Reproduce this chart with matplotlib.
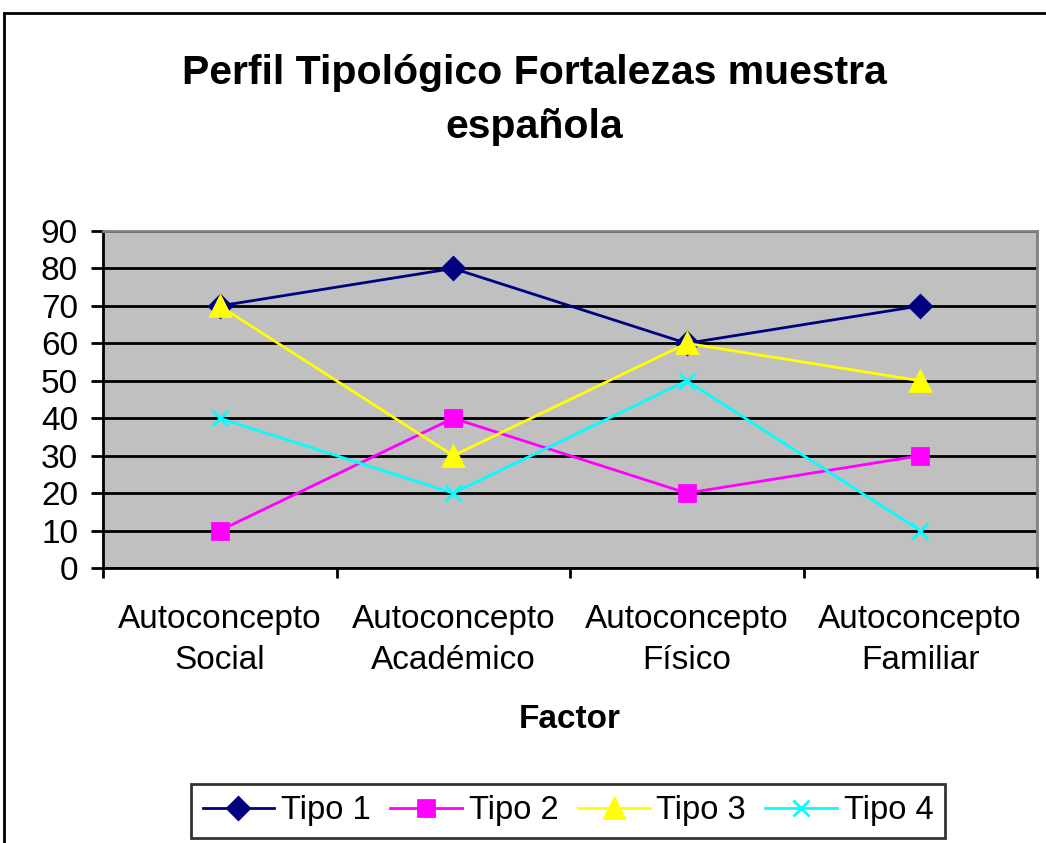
import matplotlib
matplotlib.use("Agg")
import matplotlib.pyplot as plt
from matplotlib.lines import Line2D
import numpy as np

plt.rcParams['font.family'] = ['Liberation Sans', 'DejaVu Sans']

# factores (eje X) y puntuaciones por tipo
factores = ['Autoconcepto\nSocial', 'Autoconcepto\nAcadémico',
            'Autoconcepto\nFísico', 'Autoconcepto\nFamiliar']
tipo1 = [70, 80, 60, 70]
tipo2 = [10, 40, 20, 30]
tipo3 = [70, 30, 60, 50]
tipo4 = [40, 20, 50, 10]
nombres = ['Tipo 1', 'Tipo 2', 'Tipo 3', 'Tipo 4']
yticks = list(range(0, 91, 10))

W, H = 1046, 843
fig = plt.figure(figsize=(W / 100, H / 100), dpi=100)

# marco exterior del grafico (sale por la derecha y por abajo)
fig.add_artist(Line2D([4 / W, 1.0], [1 - 13 / H, 1 - 13 / H], color='black', lw=2,
                      transform=fig.transFigure))
fig.add_artist(Line2D([4 / W, 4 / W], [0.0, 1 - 13 / H], color='black', lw=2,
                      transform=fig.transFigure))

ax = fig.add_axes([103 / W, 1 - 568 / H, (1037 - 103) / W, (568 - 231) / H])
ax.set_facecolor('#C0C0C0')

x = np.arange(len(factores))
estilos = [
    (tipo1, '#000080', 'D', 11),
    (tipo2, '#FF00FF', 's', 11),
    (tipo3, '#FFFF00', '^', 14),
    (tipo4, '#00FFFF', 'x', 11),
]
for (vals, col, mk, ms), nom in zip(estilos, nombres):
    ax.plot(x, vals, color=col, lw=2, marker=mk, markersize=ms,
            markerfacecolor=col, markeredgecolor=col, markeredgewidth=2,
            label=nom, zorder=3)

ax.set_xlim(-0.5, len(factores) - 0.5)
ax.set_ylim(0, 90)
ax.set_yticks(yticks)
ax.yaxis.grid(True, color='black', lw=2)
ax.set_axisbelow(True)
ax.tick_params(axis='y', length=9, width=2, labelsize=24, pad=9)

# etiquetas en el centro de cada categoria, marcas en los limites
ax.set_xticks(x)
ax.set_xticklabels(factores, fontsize=24, linespacing=1.43)
ax.tick_params(axis='x', length=0, pad=26)
ax.set_xticks(np.arange(-0.5, len(factores)), minor=True)
ax.tick_params(axis='x', which='minor', length=7, width=2)

for s in ('left', 'bottom'):
    ax.spines[s].set_color('black')
    ax.spines[s].set_linewidth(2)
for s in ('top', 'right'):
    ax.spines[s].set_color('#808080')
    ax.spines[s].set_linewidth(2)

ax.set_xlabel('Factor', fontsize=24, fontweight='bold', va='center')
ax.xaxis.set_label_coords(0.5, (568 - 720) / (568 - 231))

fig.text(534 / W, 1 - 100 / H, 'Perfil Tipológico Fortalezas muestra\nespañola',
         ha='center', va='center', fontsize=29.5, fontweight='bold', linespacing=1.55)

leg = fig.legend(loc='center', bbox_to_anchor=(568 / W, 1 - 811 / H), ncol=4,
                 fontsize=23.5, frameon=True, fancybox=False, edgecolor='black',
                 handlelength=2.2, handletextpad=0.2, columnspacing=0.6,
                 borderpad=0.35, borderaxespad=0)
leg.get_frame().set_linewidth(2)

fig.savefig('out.png', dpi=100)
